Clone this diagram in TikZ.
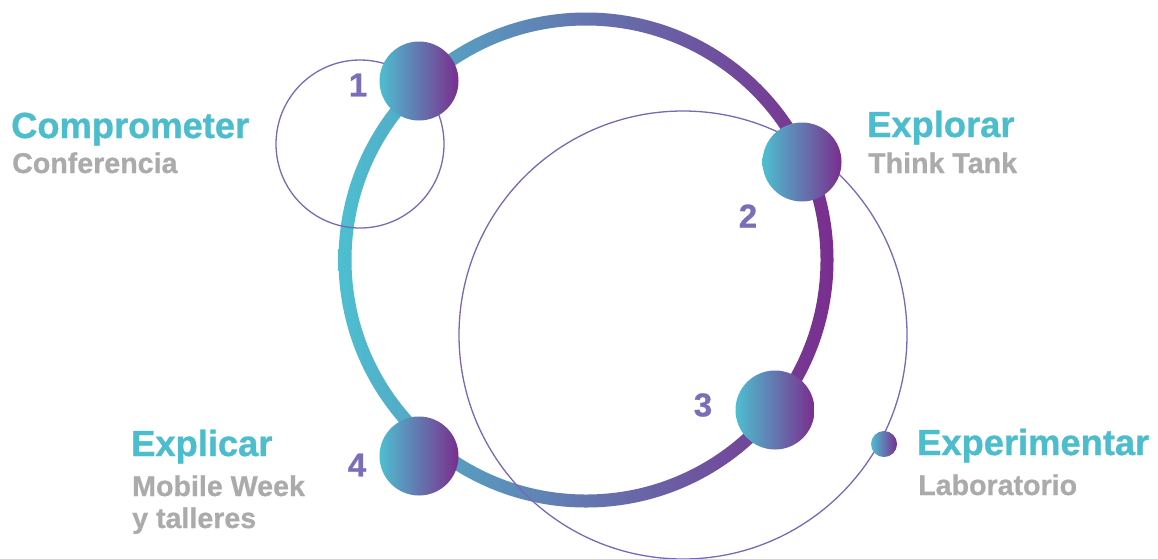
\documentclass[tikz,border=0pt]{standalone}
\usepackage{fontspec}
\setmainfont{Liberation Sans}
\newfontfamily\heavyfont{Liberation Sans Bold}[FakeBold=0.8]
\definecolor{cyanA}{HTML}{4DBFD0}
\definecolor{purpA}{HTML}{7A2D8E}
\definecolor{titleC}{HTML}{4CBDCD}
\definecolor{subC}{HTML}{ABABAB}
\definecolor{numC}{HTML}{7C6DB9}
\definecolor{thinC}{HTML}{7A68B6}
\tikzset{
  ball/.style={circle, inner sep=0pt, minimum size=#1, left color=cyanA, right color=purpA, draw=none},
  thinring/.style={draw=thinC, line width=1.3pt},
  title/.style={anchor=base west, inner sep=0pt, text=titleC, font=\fontsize{36.3}{40}\heavyfont},
  subtitle/.style={anchor=base west, inner sep=0pt, text=subC, font=\fontsize{28.6}{32}\heavyfont, align=left},
  num/.style={anchor=center, inner sep=0pt, text=numC, font=\fontsize{33}{36}\heavyfont}
}
\begin{document}
\begin{tikzpicture}[x=1pt,y=-1pt]
\useasboundingbox (0,0) rectangle (1158,558);
\fill[white] (0,0) rectangle (1158,558);
% thick gradient ring
\shade[even odd rule, left color=cyanA, right color=purpA]
  (586,260) circle (247.5pt) (586,260) circle (234.5pt);
% thin circles
\draw[thinring] (360,144) circle (84pt);
\draw[thinring] (683,335) circle (224pt);
% balls
\node[ball=79pt] (n1) at (419,81) {};
\node[ball=79pt] (n2) at (802,162) {};
\node[ball=79pt] (n3) at (775,410) {};
\node[ball=79pt] (n4) at (419,456) {};
\node[ball=26pt] (n5) at (884,444) {};
% numbers
\node[num] (l1) at (358,85) {1};
\node[num] (l2) at (748,216) {2};
\node[num] (l3) at (703,405) {3};
\node[num] (l4) at (357,465) {4};
% texts
\node[title] (t1) at (11,138) {Comprometer};
\node[subtitle] (s1) at (12,173) {Conferencia};
\node[title] (t2) at (867,137) {Explorar};
\node[subtitle] (s2) at (868,173) {Think Tank};
\node[title] (t3) at (131,456) {Explicar};
\node[subtitle] (s3) at (132,496) {Mobile Week};
\node[subtitle] (s3b) at (132,528) {y talleres};
\node[title] (t4) at (917,455) {Experimentar};
\node[subtitle] (s4) at (918,495) {Laboratorio};
\end{tikzpicture}
\end{document}
